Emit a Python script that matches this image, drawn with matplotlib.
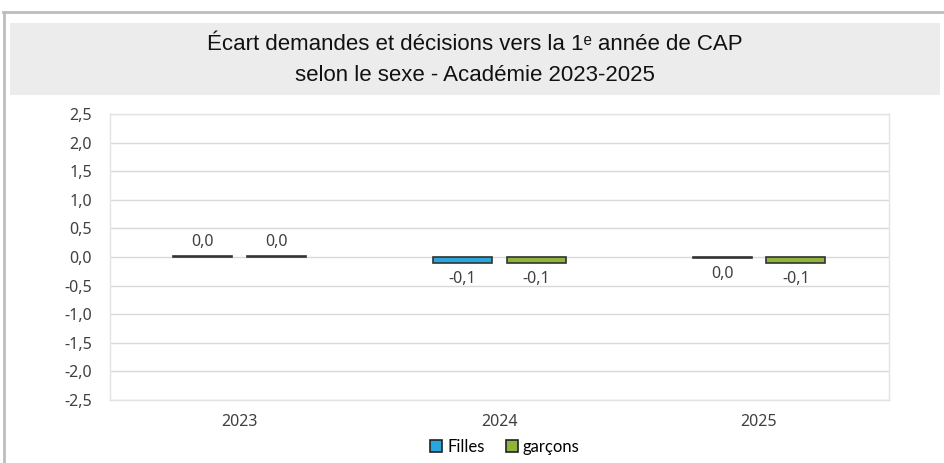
import matplotlib.pyplot as plt
import numpy as np
from matplotlib.patches import Rectangle
from matplotlib.lines import Line2D

plt.rcParams['font.family'] = ['Noto Sans', 'DejaVu Sans']

years = ['2023', '2024', '2025']
filles = [0.02, -0.1, -0.02]
garcons = [0.02, -0.1, -0.1]
filles_lbl = ['0,0', '-0,1', '0,0']
garcons_lbl = ['0,0', '-0,1', '-0,1']
yticks = [-2.5, -2.0, -1.5, -1.0, -0.5, 0.0, 0.5, 1.0, 1.5, 2.0, 2.5]

blue = '#2aa6df'
green = '#8fb43c'
txt = '#404040'

fig = plt.figure(figsize=(9.44, 4.63), dpi=100)

# outer frame and title band
fig.add_artist(Line2D([0.003, 1.0], [0.974, 0.974], color='#bdbdbd', lw=2, transform=fig.transFigure))
fig.add_artist(Line2D([0.004, 0.004], [0.0, 0.974], color='#bdbdbd', lw=2, transform=fig.transFigure))
fig.add_artist(Rectangle((0.011, 0.795), 0.985, 0.155, facecolor='#ececec', edgecolor='none',
                         transform=fig.transFigure))
title_font = ['Liberation Sans', 'DejaVu Sans']
fig.text(0.503, 0.903, 'Écart demandes et décisions vers la 1ᵉ année de CAP',
         ha='center', va='center', fontsize=16, family=title_font, color='#111111')
fig.text(0.503, 0.838, 'selon le sexe - Académie 2023-2025',
         ha='center', va='center', fontsize=16, family=title_font, color='#111111')

ax = fig.add_axes([0.1165, 0.136, 0.825, 0.618])
x = np.arange(len(years))
w = 0.227
off = 0.142
b1 = ax.bar(x - off, filles, w, color=blue, edgecolor='#333333', linewidth=1.2, zorder=3)
b2 = ax.bar(x + off, garcons, w, color=green, edgecolor='#333333', linewidth=1.2, zorder=3)

for bars, labels in ((b1, filles_lbl), (b2, garcons_lbl)):
    for r, lab in zip(bars, labels):
        v = r.get_height()
        cx = r.get_x() + r.get_width() / 2
        if v >= 0:
            ax.annotate(lab, (cx, v), xytext=(0, 4), textcoords='offset points',
                        ha='center', va='bottom', fontsize=11.5, color=txt)
        else:
            ax.annotate(lab, (cx, v), xytext=(0, -6), textcoords='offset points',
                        ha='center', va='top', fontsize=11.5, color=txt)

ax.set_xlim(-0.5, 2.5)
ax.set_ylim(-2.5, 2.5)
ax.set_yticks(yticks)
ax.set_yticklabels([f'{t:.1f}'.replace('.', ',') for t in yticks])
ax.set_xticks(x)
ax.set_xticklabels(years)
ax.tick_params(axis='both', length=0, labelsize=11.5, colors=txt)
ax.tick_params(axis='y', pad=13)
ax.tick_params(axis='x', pad=10)
ax.grid(axis='y', color='#d9d9d9', lw=1, zorder=0)
for s in ax.spines.values():
    s.set_color('#e3e3e3')
    s.set_linewidth(1)

handles = [Rectangle((0, 0), 1, 1, facecolor=blue, edgecolor='#222222', lw=1.2),
           Rectangle((0, 0), 1, 1, facecolor=green, edgecolor='#222222', lw=1.2)]
fig.legend(handles, ['Filles', 'garçons'], loc='center', bbox_to_anchor=(0.535, 0.035),
           ncol=2, frameon=False, handlelength=0.7, handleheight=0.7,
           handletextpad=0.3, columnspacing=1.3, prop={'family': ['Lato', 'DejaVu Sans'], 'size': 12})

fig.savefig('out.png', dpi=100)
